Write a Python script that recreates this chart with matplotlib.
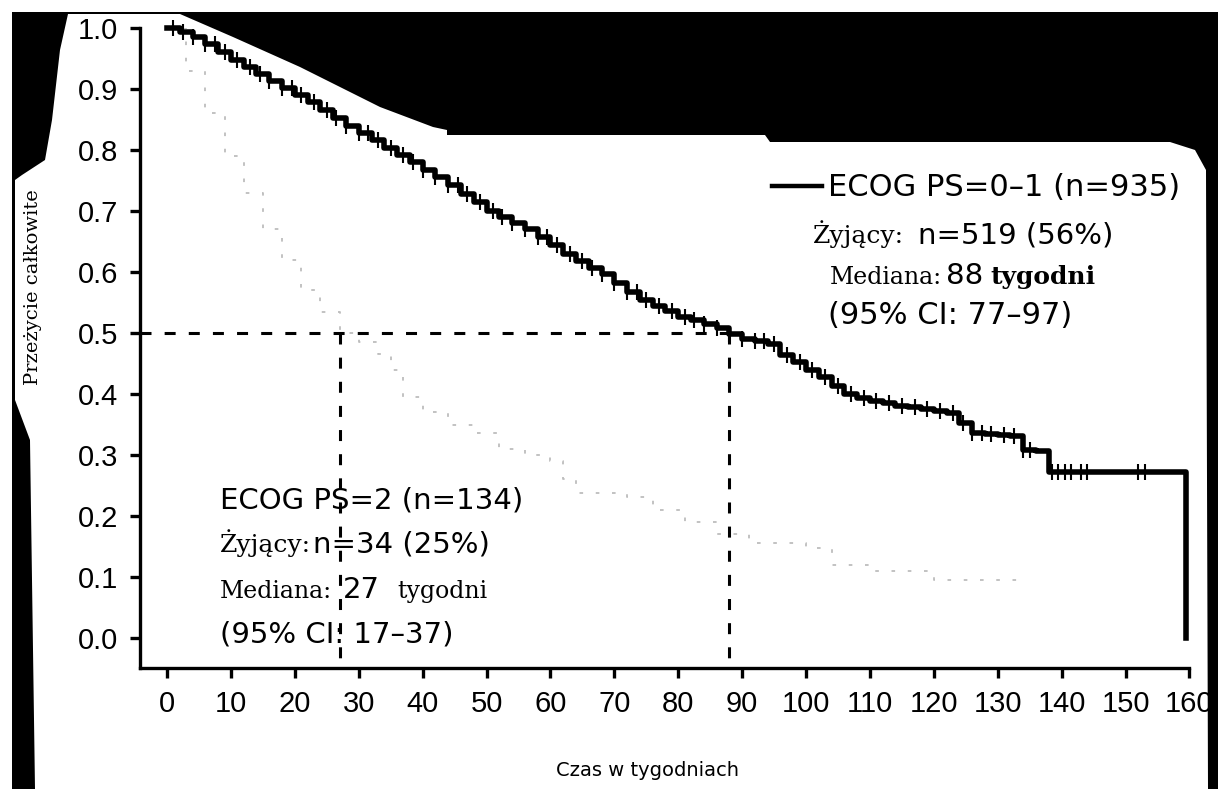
import numpy as np
import matplotlib
matplotlib.use('Agg')
import matplotlib.pyplot as plt
from matplotlib.patches import Polygon
from matplotlib.lines import Line2D

# Kaplan-Meier, ECOG PS 0-1 (n=935)
t_ps01 = [0, 2, 4, 6, 8, 10, 12, 14, 16, 18, 20, 22, 24, 26, 28, 30, 32, 34, 36, 38, 40,
          42, 44, 46, 48, 50, 52, 54, 56, 58, 60, 62, 64, 66, 68, 70, 72, 74, 76, 78, 80,
          82, 84, 86, 88, 90, 92, 94, 96, 98, 100, 102, 104, 106, 108, 110, 112, 114, 116,
          118, 120, 122, 124, 126, 128, 130, 132, 134, 136, 138, 159.5]
s_ps01 = [1.0, 0.993, 0.985, 0.974, 0.96, 0.948, 0.936, 0.924, 0.913, 0.902, 0.891, 0.879,
          0.866, 0.853, 0.84, 0.828, 0.816, 0.804, 0.792, 0.78, 0.768, 0.755, 0.742, 0.728,
          0.714, 0.70, 0.69, 0.68, 0.67, 0.658, 0.645, 0.63, 0.618, 0.607, 0.596, 0.582,
          0.568, 0.554, 0.545, 0.536, 0.527, 0.521, 0.515, 0.509, 0.498, 0.49, 0.487, 0.482,
          0.464, 0.452, 0.44, 0.428, 0.414, 0.40, 0.393, 0.389, 0.385, 0.381, 0.378, 0.375,
          0.372, 0.369, 0.352, 0.336, 0.334, 0.333, 0.331, 0.308, 0.306, 0.272, 0.0]
cens_ps01 = [1, 2.5, 4, 6, 7.5, 9, 11, 13, 14.5, 16, 18, 19.5, 21, 23, 25, 26.5, 28, 30,
             31.5, 33, 35, 37, 38.5, 40, 42, 44, 45.5, 47, 49, 51, 52.5, 54, 56, 58, 59.5,
             61, 63, 65, 66.5, 68, 70, 72, 73.5, 75, 77, 79, 81, 82.5, 84, 86, 88, 90,
             92, 93.5, 95, 97, 99, 101, 103, 105, 107, 109, 111, 113, 115, 117, 119, 121,
             123, 124.5, 126, 127.5, 129, 131, 132.5, 134, 135, 138.5, 139.5, 140.5,
             141.5, 143, 144, 152, 153]

# ECOG PS 2 (n=134) - faded in the scan
t_ps2 = [0, 3, 6, 9, 12, 15, 18, 21, 24, 27, 30, 33, 35, 37, 40, 44, 48, 52, 56, 60, 62,
         64, 72, 76, 81, 86, 91, 100, 104, 110, 120, 133]
s_ps2 = [1.0, 0.93, 0.86, 0.79, 0.73, 0.67, 0.62, 0.57, 0.535, 0.50, 0.485, 0.465, 0.44,
         0.395, 0.37, 0.35, 0.336, 0.31, 0.30, 0.29, 0.26, 0.238, 0.231, 0.21, 0.19, 0.17,
         0.156, 0.148, 0.12, 0.11, 0.095, 0.095]

median_ps01 = 88
median_ps2 = 27
x_ticks = list(range(0, 161, 10))
y_ticks = [i / 10 for i in range(0, 11)]

W, H = 1218, 789
def fx(x):
    return x / W
def fy(y):
    return 1 - y / H

fig = plt.figure(figsize=(12.18, 7.89), dpi=100)
fig.patch.set_facecolor('white')

# scan artefacts: black border round the page
fig.patches.append(Polygon([(fx(12), fy(12)), (fx(1218), fy(12)), (fx(1218), fy(789)),
                            (fx(12), fy(789))], closed=True, transform=fig.transFigure,
                           facecolor='black', edgecolor='none', zorder=-20))
white_px = [(68, 14), (180, 14), (233, 37), (300, 67), (380, 107), (433, 127), (447, 130),
            (447, 135), (765, 135), (770, 142), (1170, 142), (1195, 150), (1206, 170),
            (1208, 789), (35, 789), (30, 440), (15, 400), (15, 180), (22, 175), (45, 160),
            (52, 120), (60, 50)]
fig.patches.append(Polygon([(fx(a), fy(b)) for a, b in white_px], closed=True,
                           transform=fig.transFigure, facecolor='white',
                           edgecolor='none', zorder=-10))

ax = fig.add_axes([fx(140), fy(668), (1189.4 - 140) / W, (668 - 28) / H])
ax.set_facecolor('none')
ax.set_xlim(-4.23, 160)
ax.set_ylim(-0.049, 1.0)

# curves
ax.step(t_ps2, s_ps2, where='post', color='#bdbdbd', lw=1.3, linestyle=(0, (2, 7)))
ax.step(t_ps01, s_ps01, where='post', color='black', lw=4, clip_on=False)
idx = np.searchsorted(t_ps01, cens_ps01, side='right') - 1
ax.plot(cens_ps01, np.array(s_ps01)[idx], '|', color='black', ms=11, mew=1.5, clip_on=False)

# medians
dash = (0, (3.6, 4.3))
ax.plot([-4.23, median_ps01], [0.5, 0.5], color='black', lw=2.2, linestyle=dash)
ax.plot([median_ps2, median_ps2], [0.5, -0.049], color='black', lw=2.2, linestyle=dash)
ax.plot([median_ps01, median_ps01], [0.5, -0.049], color='black', lw=2.2, linestyle=dash)

for s in ['top', 'right']:
    ax.spines[s].set_visible(False)
for s in ['left', 'bottom']:
    ax.spines[s].set_linewidth(2.4)
ax.set_xticks(x_ticks)
ax.set_yticks(y_ticks)
ax.set_yticklabels(['%.1f' % v for v in y_ticks])
ax.tick_params(direction='out', length=7, width=2.4, pad=9)
for lab in ax.get_xticklabels() + ax.get_yticklabels():
    lab.set_family(['Liberation Sans', 'DejaVu Sans'])
    lab.set_fontsize(21)

fig.text(fx(33), fy(287), 'Przeżycie całkowite', rotation=90, ha='center', va='center',
         family='DejaVu Serif', fontsize=14)
fig.text(fx(648), fy(770), 'Czas w tygodniach', ha='center', va='center',
         family='DejaVu Sans', fontsize=14)

def ft(x, y, s, serif=False, size=22, **kw):
    fig.text(fx(x), fy(y), s, ha='left', va='baseline',
             family='DejaVu Serif' if serif else 'DejaVu Sans', fontsize=size, **kw)

# right block, ECOG PS 0-1
fig.add_artist(Line2D([fx(772), fx(822)], [fy(186), fy(186)], color='black', lw=3.2,
                      transform=fig.transFigure))
ft(828, 196, 'ECOG PS=0–1 (n=935)')
ft(813, 243, 'Żyjący:', serif=True, size=18)
ft(918, 243, 'n=519 (56%)', size=21)
ft(830, 284, 'Mediana:', serif=True, size=17)
ft(946, 284, '88', size=21)
ft(990, 284, 'tygodni', serif=True, size=18, weight='bold')
ft(828, 324, '(95% CI: 77–97)')

# left block, ECOG PS 2
ft(220, 508, 'ECOG PS=2 (n=134)', size=21)
ft(220, 552, 'Żyjący:', serif=True, size=18)
ft(313, 552, 'n=34 (25%)', size=21)
ft(220, 598, 'Mediana:', serif=True, size=17)
ft(343, 598, '27', size=21)
ft(397, 598, 'tygodni', serif=True, size=17)
ft(220, 642, '(95% CI: 17–37)', size=21)

fig.savefig('out.png', dpi=100)
